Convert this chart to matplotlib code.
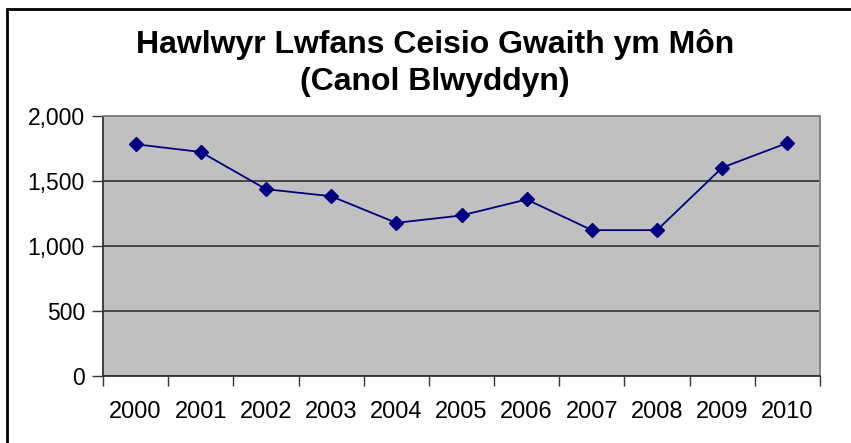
import matplotlib
matplotlib.use("Agg")
import matplotlib.pyplot as plt
from matplotlib.patches import Rectangle
from matplotlib.ticker import FuncFormatter, FixedLocator

years = ["2000", "2001", "2002", "2003", "2004", "2005", "2006", "2007", "2008", "2009", "2010"]
claimants = [1783, 1723, 1437, 1383, 1178, 1235, 1358, 1122, 1122, 1603, 1793]
y_ticks = [0, 500, 1000, 1500, 2000]
title = "Hawlwyr Lwfans Ceisio Gwaith ym Môn\n(Canol Blwyddyn)"

plt.rcParams["font.family"] = ["Liberation Sans", "DejaVu Sans"]

W, H = 851, 443
fig = plt.figure(figsize=(W / 100, H / 100), dpi=100)
ax = fig.add_axes([103 / W, 1 - 376 / H, (820 - 103) / W, (376 - 116) / H])

# outer chart border (right/bottom edges fall outside the picture)
fig.patches.append(Rectangle((7 / W, -0.2), 1.2, 1 - 9 / H + 0.2, transform=fig.transFigure,
                             fill=False, edgecolor="black", linewidth=2, clip_on=False))

ax.set_facecolor("#C0C0C0")
x = list(range(len(years)))
ax.plot(x, claimants, color="#000080", linewidth=1.3, marker="D", markersize=7,
        markerfacecolor="#000080", markeredgecolor="#000080", zorder=3)

ax.set_ylim(0, 2000)
ax.set_xlim(-0.5, len(years) - 0.5)
ax.set_yticks(y_ticks)
ax.yaxis.set_major_formatter(FuncFormatter(lambda v, p: f"{int(v):,}"))
ax.grid(axis="y", color="#333333", linewidth=1.2)
ax.set_axisbelow(True)

ax.set_xticks(x)
ax.set_xticklabels(years)
ax.xaxis.set_minor_locator(FixedLocator([i - 0.5 for i in range(len(years) + 1)]))
ax.tick_params(axis="x", which="major", length=0, pad=18, labelsize=17)
ax.tick_params(axis="x", which="minor", length=7, width=1, color="#333333")
ax.tick_params(axis="y", length=8, width=1, color="#333333", labelsize=16.5, pad=5)

for side in ("left", "bottom"):
    ax.spines[side].set_color("#333333")
    ax.spines[side].set_linewidth(1.3)
for side in ("top", "right"):
    ax.spines[side].set_color("#808080")
    ax.spines[side].set_linewidth(1.3)

fig.text(435 / W, 1 - 63 / H, title, ha="center", va="center", fontsize=23,
         fontweight="bold", linespacing=1.3)

fig.savefig("out.png", dpi=100)
